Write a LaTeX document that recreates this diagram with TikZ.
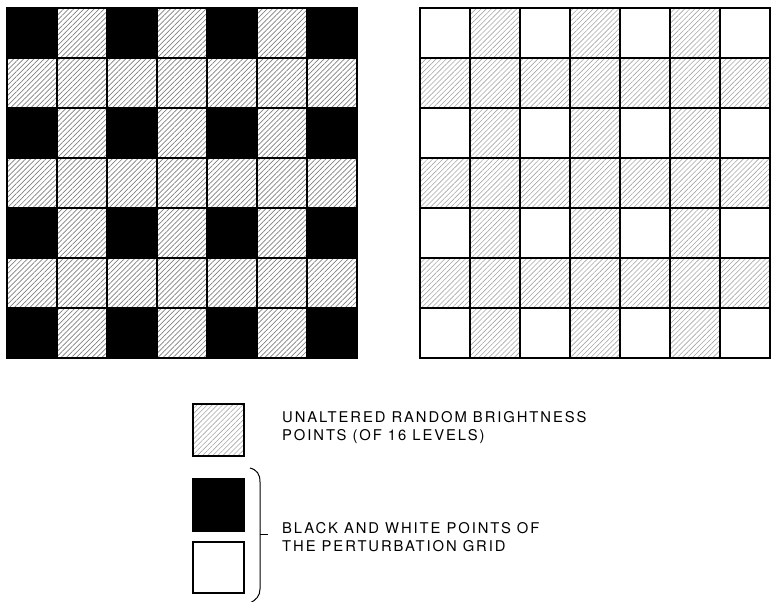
\documentclass[tikz,border=0pt]{standalone}
\usepackage{fontspec}
\setmainfont{TeX Gyre Heros}[LetterSpace=13]
\usetikzlibrary{patterns.meta}
\tikzset{
  hatchfill/.style={pattern={Lines[angle=45,distance=3.6pt,line width=0.7pt]}, pattern color=black!50},
  lighthatch/.style={pattern={Lines[angle=45,distance=3.6pt,line width=0.6pt]}, pattern color=black!35},
  gridline/.style={line width=1.3pt},
  keybox/.style={draw, line width=1.3pt},
  keytext/.style={anchor=base west, inner sep=0pt, font=\fontsize{14.8}{17}\selectfont}
}
\begin{document}
\begin{tikzpicture}[x=1pt, y=1pt]
  \useasboundingbox (0,0) rectangle (771,602);

  % left grid: hatched, black points at even rows and columns
  \fill[hatchfill] (7,244) rectangle (357,594);
  \foreach \c in {0,2,4,6}
    \foreach \r in {0,2,4,6}
      \fill[black] ({7+50*\c},{244+50*\r}) rectangle ++(50,50);
  \draw[gridline, xshift=7pt, yshift=244pt] (0,0) grid[step=50] (350,350);
  \draw[line width=1.6pt] (7,244) rectangle (357,594);

  % right grid: hatched, white points at even rows and columns
  \fill[lighthatch] (420,244) rectangle (770,594);
  \foreach \c in {0,2,4,6}
    \foreach \r in {0,2,4,6}
      \fill[white] ({420+50*\c},{244+50*\r}) rectangle ++(50,50);
  \draw[gridline, xshift=420pt, yshift=244pt] (0,0) grid[step=50] (350,350);
  \draw[line width=1.6pt] (420,244) rectangle (770,594);

  % key
  \draw[keybox, lighthatch] (193,146) rectangle (244,198);
  \draw[keybox, fill=black] (193,71) rectangle (244,123);
  \draw[keybox, fill=white] (193,9) rectangle (244,60);

  % bracket
  \draw[line width=1pt] (250,134) .. controls (257,132) and (260,128) .. (260,120)
    -- (260,13) .. controls (260,6) and (256,2) .. (250,-1);
  \draw[line width=1pt] (260,67) -- (268,67);

  \node[keytext] (unaltered) at (282,179) {UNALTERED RANDOM BRIGHTNESS};
  \node[keytext] (levels) at (282,161) {POINTS (OF 16 LEVELS)};
  \node[keytext] (blackwhite) at (282,68) {BLACK AND WHITE POINTS OF};
  \node[keytext] (perturb) at (282,50) {THE PERTURBATION GRID};
\end{tikzpicture}
\end{document}
